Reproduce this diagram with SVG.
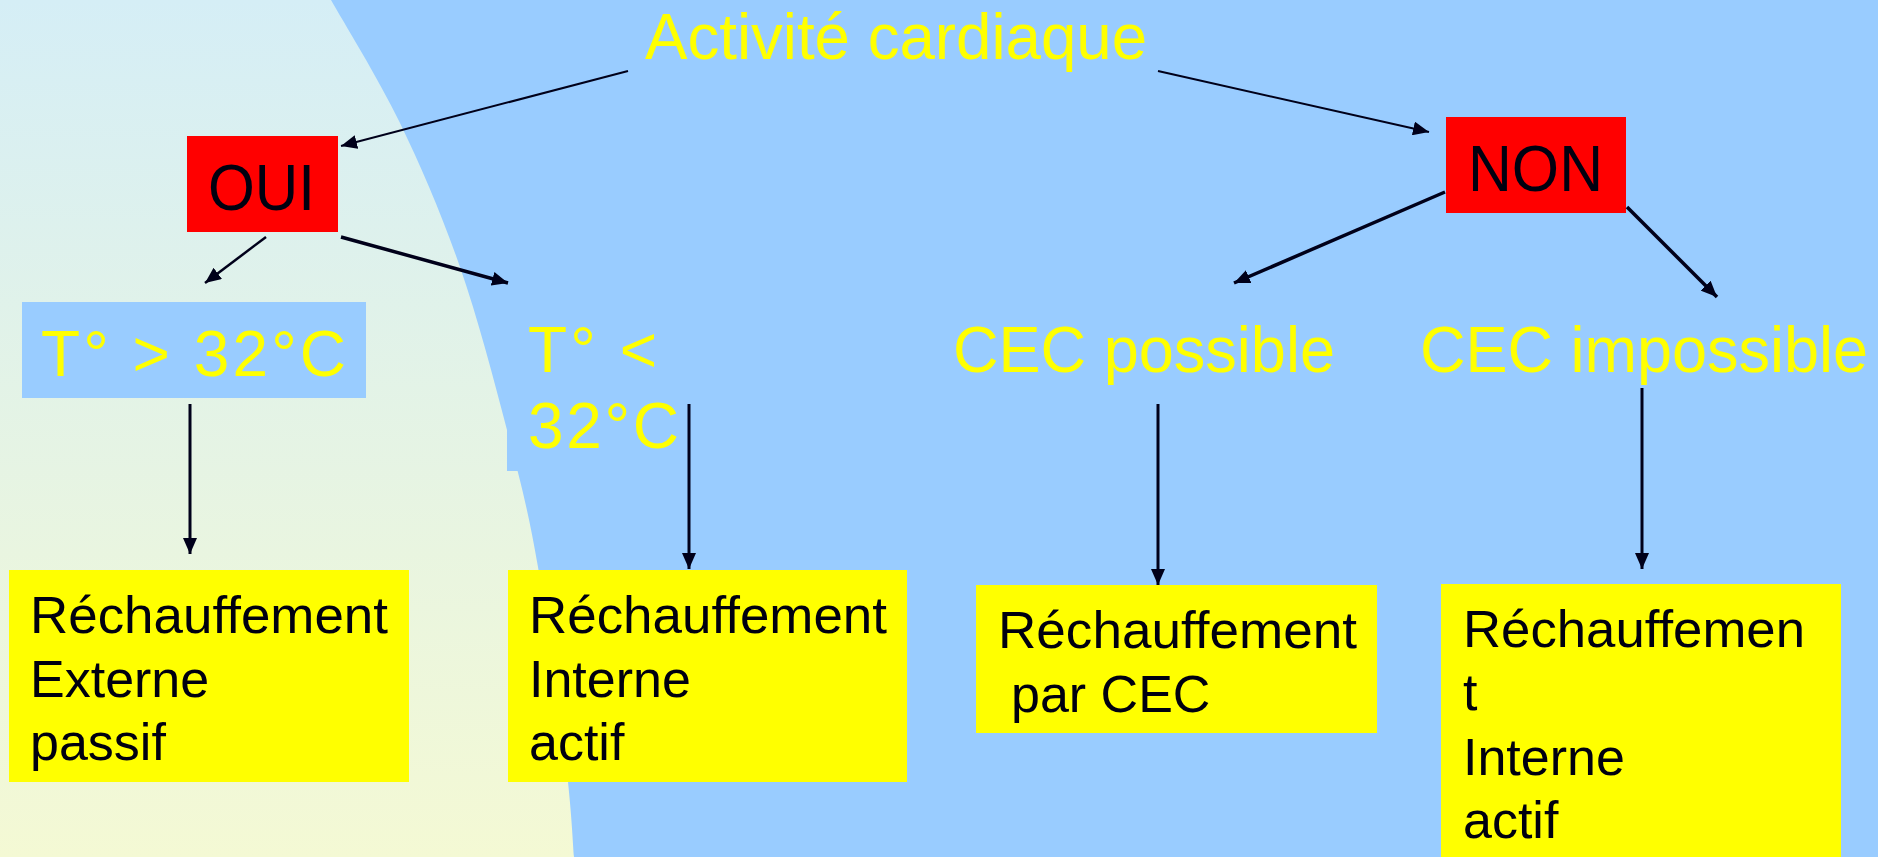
<svg xmlns="http://www.w3.org/2000/svg" width="1878" height="857" viewBox="0 0 1878 857">
<style>
.lbl{font-family:"Liberation Sans",Arial,sans-serif;fill:#FFFF00;font-size:64px}
.blk{font-family:"Liberation Sans",Arial,sans-serif;fill:#000010;font-size:64px}
.box{font-family:"Liberation Sans",Arial,sans-serif;fill:#000010;font-size:52px}
.red{fill:#FF0000}
.yel{fill:#FFFF00}
.blu{fill:#99CCFF}
.c{stroke:#00001a;fill:none;marker-end:url(#ah)}
</style>
<defs>
<linearGradient id="bg" x1="0" y1="0" x2="0" y2="1">
<stop offset="0" stop-color="#D5EEF6"/>
<stop offset="1" stop-color="#F4F9D4"/>
</linearGradient>
<marker id="ah" viewBox="0 0 16 14" refX="16" refY="7" markerWidth="16" markerHeight="14" markerUnits="userSpaceOnUse" orient="auto">
<path d="M0,0 L16,7 L0,14 z" fill="#00001a"/>
</marker>
</defs>
<rect x="0" y="0" width="1878" height="857" fill="#99CCFF"/>
<path d="M0,0 L331,0 C342.5,20.5 378.5,78.5 400,123 C421.5,167.5 442.2,215.8 460,267 C477.8,318.2 494,380 507,430 C520,480 527.8,508.3 538,567 C548.2,625.7 562,733.7 568,782 C572,820 573,845 574,857 L0,857 Z" fill="url(#bg)"/>

<g id="activite">
<text class="lbl" x="645" y="59" textLength="502" lengthAdjust="spacingAndGlyphs">Activité cardiaque</text>
</g>

<g id="oui">
<rect class="red" x="187" y="136" width="151" height="96"/>
<text class="blk" x="208" y="210" textLength="107" lengthAdjust="spacingAndGlyphs">OUI</text>
</g>

<g id="non">
<rect class="red" x="1446" y="117" width="180" height="96"/>
<text class="blk" x="1468" y="191" textLength="135" lengthAdjust="spacingAndGlyphs">NON</text>
</g>

<g id="t-sup">
<rect class="blu" x="22" y="302" width="344" height="96"/>
<text class="lbl" x="41" y="376" textLength="305" lengthAdjust="spacing">T° &gt; 32°C</text>
</g>

<g id="t-inf">
<rect class="blu" x="507" y="302" width="190" height="169"/>
<text class="lbl" x="528" y="372" textLength="129" lengthAdjust="spacing">T° &lt;</text>
<text class="lbl" x="528" y="448" textLength="151" lengthAdjust="spacing">32°C</text>
</g>

<g id="cec-possible">
<text class="lbl" x="953" y="372" textLength="382" lengthAdjust="spacingAndGlyphs">CEC possible</text>
</g>

<g id="cec-impossible">
<text class="lbl" x="1420" y="372" textLength="448" lengthAdjust="spacingAndGlyphs">CEC impossible</text>
</g>

<g id="rech-externe">
<rect class="yel" x="9" y="570" width="400" height="212"/>
<text class="box" x="30" y="633" textLength="358" lengthAdjust="spacingAndGlyphs">Réchauffement</text>
<text class="box" x="30" y="697">Externe</text>
<text class="box" x="30" y="760">passif</text>
</g>

<g id="rech-interne">
<rect class="yel" x="508" y="570" width="399" height="212"/>
<text class="box" x="529" y="633" textLength="358" lengthAdjust="spacingAndGlyphs">Réchauffement</text>
<text class="box" x="529" y="697">Interne</text>
<text class="box" x="529" y="760">actif</text>
</g>

<g id="rech-cec">
<rect class="yel" x="976" y="585" width="401" height="148"/>
<text class="box" x="998" y="648" textLength="359" lengthAdjust="spacingAndGlyphs">Réchauffement</text>
<text class="box" x="1011" y="712">par CEC</text>
</g>

<g id="rech-interne-2">
<rect class="yel" x="1441" y="584" width="400" height="273"/>
<text class="box" x="1463" y="647" textLength="342" lengthAdjust="spacingAndGlyphs">Réchauffemen</text>
<text class="box" x="1463" y="710">t</text>
<text class="box" x="1463" y="775">Interne</text>
<text class="box" x="1463" y="838">actif</text>
</g>

<g id="connectors">
<line class="c" x1="628" y1="71" x2="341" y2="146" stroke-width="2"/>
<line class="c" x1="1158" y1="71" x2="1429" y2="132" stroke-width="2"/>
<line class="c" x1="266" y1="237" x2="205" y2="283" stroke-width="2.5"/>
<line class="c" x1="341" y1="237" x2="508" y2="283" stroke-width="3.5"/>
<line class="c" x1="1445" y1="192" x2="1234" y2="283" stroke-width="3.5"/>
<line class="c" x1="1627" y1="207" x2="1717" y2="297" stroke-width="3.5"/>
<line class="c" x1="190" y1="404" x2="190" y2="554" stroke-width="3"/>
<line class="c" x1="689" y1="404" x2="689" y2="569" stroke-width="3"/>
<line class="c" x1="1158" y1="404" x2="1158" y2="585" stroke-width="3"/>
<line class="c" x1="1642" y1="388" x2="1642" y2="569" stroke-width="3"/>
</g>
</svg>
